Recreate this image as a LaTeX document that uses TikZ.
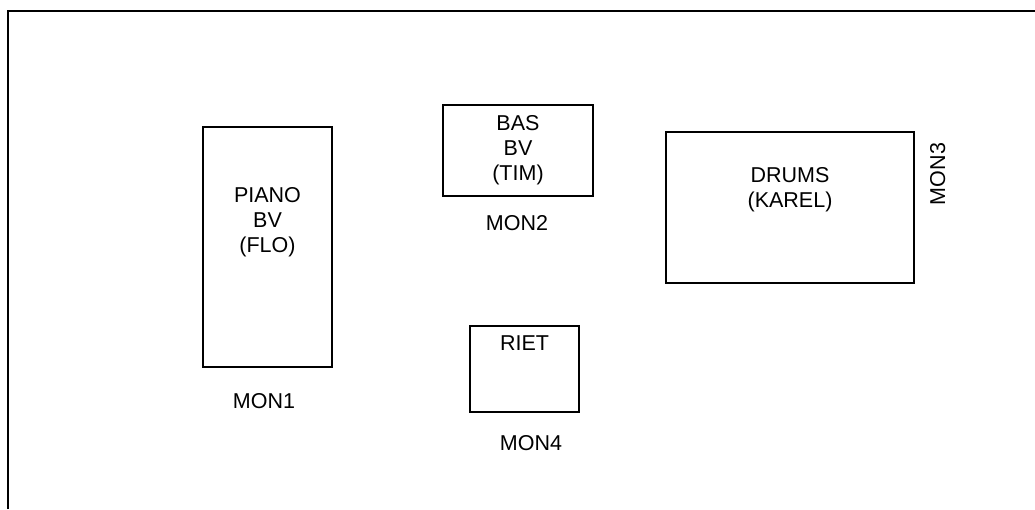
\documentclass[tikz,border=0pt]{standalone}
\usepackage{fontspec}
\setmainfont{Liberation Sans}
\begin{document}
\begin{tikzpicture}[x=1pt,y=-1pt,
  box/.style={draw=black,line width=1.5pt},
  lbl/.style={anchor=base,inner sep=0pt,font=\fontsize{21.5}{25}\selectfont,align=center}]
\useasboundingbox (0,0) rectangle (1035,509);
% outer frame (top and left only)
\coordinate (fa) at (8,509);
\coordinate (fb) at (8,11);
\coordinate (fc) at (1035,11);
\draw[line width=2pt] (fa) -- (fb) -- (fc);
% boxes
\draw[box] (203,127) rectangle (332,367);
\draw[box] (443,105) rectangle (593,196);
\draw[box] (666,132) rectangle (914,283);
\draw[box] (470,326) rectangle (579,412);
% texts
\node[lbl] (piano) at (267.5,202) {PIANO};
\node[lbl] (pianobv) at (267.5,227) {BV};
\node[lbl] (flo) at (267.5,252) {(FLO)};
\node[lbl] (bas) at (518,130) {BAS};
\node[lbl] (basbv) at (518,155) {BV};
\node[lbl] (tim) at (518,180) {(TIM)};
\node[lbl] (drums) at (790,182) {DRUMS};
\node[lbl] (karel) at (790,207) {(KAREL)};
\node[lbl] (riet) at (524.5,350) {RIET};
\node[lbl] (mon1) at (264,408) {MON1};
\node[lbl] (mon2) at (517,230) {MON2};
\node[lbl] (mon4) at (531,450) {MON4};
\node[lbl,rotate=90] (mon3) at (945,174) {MON3};
\end{tikzpicture}
\end{document}
